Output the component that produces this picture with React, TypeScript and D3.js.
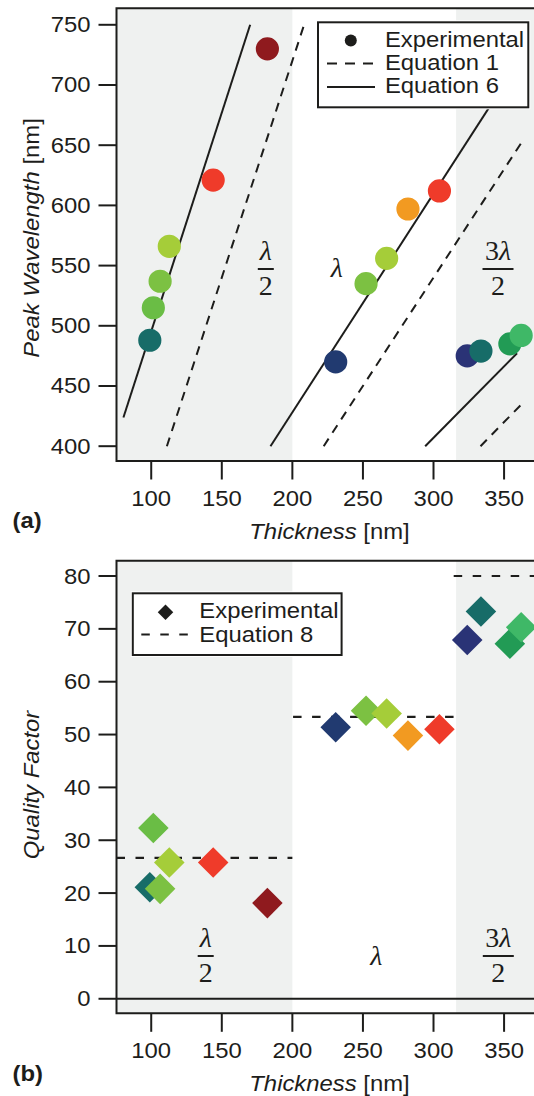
import React from "react";
import * as d3 from "d3";

// ---------------- data ----------------
const thickness = [99, 101.5, 106.3, 112.8, 143.9, 182.3, 230.7, 252.2, 266.8, 281.9, 304.2, 323.9, 333.6, 354.1, 362.1];
const peakWavelength = [488, 515, 537, 566, 621, 730, 470, 535, 556, 597, 612, 475, 479, 485, 492];
const qualityFactor = [21.1, 32.3, 20.8, 25.8, 25.8, 18.1, 51.4, 54.5, 54.0, 49.8, 51.0, 67.9, 73.3, 67.2, 70.3];
const sampleColors = [
  "#176c68", "#6abd45", "#7cc142", "#a5cd39", "#ef3b2a", "#8f1a1e",
  "#213a70", "#7cc142", "#a5cd39", "#f29a21", "#ef3b2a",
  "#2a3376", "#176c68", "#229b55", "#3fb867",
];

// Equation 1 (dashed) and Equation 6 (solid) segments: [thickness, wavelength]
const eq1Lines: [number, number][][] = [
  [[111.1, 400], [208.3, 750]],
  [[222.2, 400], [362, 651.6]],
  [[333.3, 400], [362, 434.4]],
];
const eq6Lines: [number, number][][] = [
  [[80.3, 423.8], [170.1, 750]],
  [[184.5, 400], [362, 722.3]],
  [[294.1, 400], [359.2, 477.2]],
];
// Equation 8 (dashed) levels: [from thickness, to thickness, Q]
const eq8Levels: [number, number, number][] = [
  [75.4, 200, 26.67],
  [200.5, 315.7, 53.33],
  [314.3, 380, 80],
];
const shadedBands: [number, number][] = [[75.4, 200], [316, 380]];

const xTicks = [100, 150, 200, 250, 300, 350];
const wavelengthTicks = [400, 450, 500, 550, 600, 650, 700, 750];
const qTicks = [0, 10, 20, 30, 40, 50, 60, 70, 80];

// ---------------- layout ----------------
const W = 534, H = 1096;
const FONT = "'Liberation Sans', Arial, Helvetica, sans-serif";
const SERIF = "'Liberation Serif', 'Times New Roman', serif";
const FS = 21.5;
const SX = 1.11;
const INK = "#1d1d1b";
const SHADE = "#eff1f0";
const MATH = 28;

const L = 116.5;
const xScale = d3.scaleLinear().domain([75.4, 371.2]).range([L, 534]);
const yTop = d3.scaleLinear().domain([387.7, 763.7]).range([461, 8.3]);
const yBot = d3.scaleLinear().domain([-2.75, 82.9]).range([1013.3, 560.7]);

function Label(props: any) {
  const { x, y, anchor = "start", rotate = 0, size = FS, weight = "normal", italic = false, children, family = FONT, sx = SX } = props;
  return (
    <g transform={`translate(${x},${y}) rotate(${rotate}) scale(${sx},1)`}>
      <text x={0} y={0} textAnchor={anchor} fontFamily={family} fontSize={size} fontWeight={weight}
        fontStyle={italic ? "italic" : "normal"} fill={INK}>{children}</text>
    </g>
  );
}

function Frac({ cx, bar, num, den, w }: any) {
  return (
    <g>
      <text x={cx} y={bar - 9.5} textAnchor="middle" fontFamily={SERIF} fontSize={MATH} fill={INK}>{num}</text>
      <line x1={cx - w / 2} x2={cx + w / 2} y1={bar} y2={bar} stroke={INK} strokeWidth={2} />
      <text x={cx} y={bar + 26} textAnchor="middle" fontFamily={SERIF} fontSize={MATH} fill={INK}>{den}</text>
    </g>
  );
}

const lam = <tspan fontStyle="italic">λ</tspan>;

function Panel({ y, yTicks, top, bottom, children, clipId }: any) {
  const right = 560;
  return (
    <g>
      <defs>
        <clipPath id={clipId}>
          <rect x={L} y={top} width={right - L} height={bottom - top} />
        </clipPath>
      </defs>
      {shadedBands.map((b, i) => (
        <rect key={i} x={xScale(b[0])} y={top} width={xScale(b[1]) - xScale(b[0])} height={bottom - top} fill={SHADE} />
      ))}
      <g clipPath={`url(#${clipId})`}>{children}</g>
      {/* frame */}
      <path d={`M${L},${top}H${right}M${L},${top - 1}V${bottom + 1}M${L - 1},${bottom}H${right}`} stroke={INK} strokeWidth={2} fill="none" />
      {yTicks.map((t: number) => (
        <g key={t}>
          <line x1={L - 18} x2={L} y1={y(t)} y2={y(t)} stroke={INK} strokeWidth={2} />
          <Label x={90.5} y={y(t) + 7.5} anchor="end">{t}</Label>
        </g>
      ))}
      {xTicks.map((t) => (
        <g key={t}>
          <line x1={xScale(t)} x2={xScale(t)} y1={bottom} y2={bottom + 18.5} stroke={INK} strokeWidth={2} />
          <Label x={xScale(t)} y={bottom + 44.5} anchor="middle">{t}</Label>
        </g>
      ))}
      <Label x={329.5} y={bottom + 77.5} anchor="middle">
        <tspan fontStyle="italic">Thickness</tspan> [nm]
      </Label>
    </g>
  );
}

export default function App() {
  const lineGen = d3.line<[number, number]>().x((d) => xScale(d[0])).y((d) => yTop(d[1]));
  const circlePath = d3.symbol().type(d3.symbolCircle).size(Math.PI * 11.6 * 11.6)()!;
  const squarePath = d3.symbol().type(d3.symbolSquare).size(21.6 * 21.6)()!;
  const legCircle = d3.symbol().type(d3.symbolCircle).size(Math.PI * 6 * 6)()!;
  const legSquare = d3.symbol().type(d3.symbolSquare).size(11 * 11)()!;

  return (
    <div style={{ position: "absolute", left: 0, top: 0 }}>
      <svg width={W} height={H} style={{ display: "block" }}>
        <rect x={0} y={0} width={W} height={H} fill="#fff" />
        {/* ---------- panel (a) ---------- */}
        <Panel y={yTop} yTicks={wavelengthTicks} top={8.3} bottom={461} clipId="clipA">
          {eq1Lines.map((seg, i) => (
            <path key={"e1" + i} d={lineGen(seg)!} stroke={INK} strokeWidth={2} strokeDasharray="9,7" fill="none" />
          ))}
          {eq6Lines.map((seg, i) => (
            <path key={"e6" + i} d={lineGen(seg)!} stroke={INK} strokeWidth={2} fill="none" />
          ))}
          {thickness.map((t, i) => (
            <path key={"c" + i} d={circlePath} transform={`translate(${xScale(t)},${yTop(peakWavelength[i])})`} fill={sampleColors[i]} />
          ))}
        </Panel>
        <Frac cx={265.8} bar={269} num={lam} den="2" w={16} />
        <text x={336.7} y={277} textAnchor="middle" fontFamily={SERIF} fontSize={MATH} fill={INK}>{lam}</text>
        <Frac cx={498} bar={269} num={<>3{lam}</>} den="2" w={31} />
        {/* legend a */}
        <rect x={316} y={20.3} width={214.3} height={89} fill="#fff" />
        <rect x={318} y={22.3} width={210.3} height={85} fill="#fff" stroke={INK} strokeWidth={2} />
        <path d={legCircle} transform="translate(350.8,40.5)" fill={INK} />
        <Label x={384.9} y={46.7}>Experimental</Label>
        <line x1={327} x2={375} y1={63.5} y2={63.5} stroke={INK} strokeWidth={2} strokeDasharray="10,8" />
        <Label x={384.9} y={70}>Equation 1</Label>
        <line x1={327} x2={375} y1={87} y2={87} stroke={INK} strokeWidth={2} />
        <Label x={384.9} y={93.3}>Equation 6</Label>
        <Label x={38.5} y={238} anchor="middle" rotate={-90}>
          <tspan fontStyle="italic">Peak Wavelength</tspan> [nm]
        </Label>
        <Label x={12.5} y={528.3} weight="bold">(a)</Label>

        {/* ---------- panel (b) ---------- */}
        <Panel y={yBot} yTicks={qTicks} top={560.7} bottom={1013.3} clipId="clipB">
          <line x1={L} x2={560} y1={yBot(0)} y2={yBot(0)} stroke={INK} strokeWidth={2} />
          {eq8Levels.map((s, i) => (
            <line key={"e8" + i} x1={xScale(s[0])} x2={xScale(s[1])} y1={yBot(s[2])} y2={yBot(s[2])}
              stroke={INK} strokeWidth={2.2} strokeDasharray="8.5,10.5" />
          ))}
          {thickness.map((t, i) => (
            <path key={"d" + i} d={squarePath} transform={`translate(${xScale(t)},${yBot(qualityFactor[i])}) rotate(45)`} fill={sampleColors[i]} />
          ))}
        </Panel>
        <Frac cx={205.7} bar={956} num={lam} den="2" w={16} />
        <text x={376.4} y={965} textAnchor="middle" fontFamily={SERIF} fontSize={MATH} fill={INK}>{lam}</text>
        <Frac cx={498.3} bar={956} num={<>3{lam}</>} den="2" w={31} />
        {/* legend b */}
        <rect x={130.8} y={591.3} width={212.8} height={65.7} fill="#fff" />
        <rect x={132.8} y={593.3} width={208.8} height={61.7} fill="#fff" stroke={INK} strokeWidth={2} />
        <path d={legSquare} transform="translate(165.5,612.3) rotate(45)" fill={INK} />
        <Label x={199.3} y={618.3}>Experimental</Label>
        <line x1={141.3} x2={190} y1={634.5} y2={634.5} stroke={INK} strokeWidth={2} strokeDasharray="8.5,10.5" />
        <Label x={199.3} y={641.7}>Equation 8</Label>
        <Label x={38.5} y={785} anchor="middle" rotate={-90}>
          <tspan fontStyle="italic">Quality Factor</tspan>
        </Label>
        <Label x={12.5} y={1080.6} weight="bold">(b)</Label>
      </svg>
    </div>
  );
}
